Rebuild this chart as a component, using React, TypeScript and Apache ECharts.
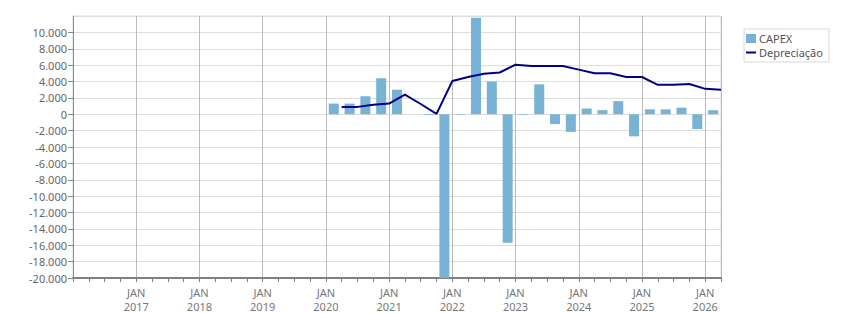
import React, { useEffect, useRef } from "react";
import * as echarts from "echarts";

const quarters = [
  "2020Q1", "2020Q2", "2020Q3", "2020Q4",
  "2021Q1", "2021Q2", "2021Q3", "2021Q4",
  "2022Q1", "2022Q2", "2022Q3", "2022Q4",
  "2023Q1", "2023Q2", "2023Q3", "2023Q4",
  "2024Q1", "2024Q2", "2024Q3", "2024Q4",
  "2025Q1", "2025Q2", "2025Q3", "2025Q4",
  "2026Q1",
];

const capex = [
  1300, 1300, 2200, 4400,
  3000, 0, -100, -20000,
  -80, 11800, 4000, -15700,
  -80, 3650, -1200, -2150,
  700, 500, 1600, -2700,
  600, 600, 800, -1800,
  500,
];

// Depreciação, value at the end of each quarter
const depreciacao = [
  900, 900, 1150, 1300,
  2400, 1250, 50, 4050,
  4550, 4950, 5100, 6050,
  5900, 5900, 5900, 5450,
  5000, 5000, 4550, 4550,
  3600, 3600, 3700, 3100,
  3000,
];

const yearTicks = [2017, 2018, 2019, 2020, 2021, 2022, 2023, 2024, 2025, 2026];

const qParse = (q: string) => {
  const y = parseInt(q.slice(0, 4), 10);
  const n = parseInt(q.slice(5), 10);
  return { y, n };
};

const fmt = (v: number) => {
  const s = Math.abs(v).toString().replace(/\B(?=(\d{3})+(?!\d))/g, ".");
  return (v < 0 ? "-" : "") + s;
};

const FONT = "Noto Sans";

export default function App() {
  const ref = useRef<HTMLDivElement>(null);
  useEffect(() => {
    document.body.style.margin = "0";
    if (!ref.current) return;
    const chart = echarts.init(ref.current, null, { renderer: "svg" });
    const barData = quarters.map((q, i) => {
      const { y, n } = qParse(q);
      return [y + (n - 0.5) / 4, capex[i]];
    });
    const lineData = quarters.map((q, i) => {
      const { y, n } = qParse(q);
      return [y + n / 4, depreciacao[i]];
    });
    chart.setOption({
      animation: false,
      textStyle: { fontFamily: FONT },
      grid: {
        left: 73,
        right: 130,
        top: 16,
        bottom: 35,
        show: true,
        borderColor: "#dddddd",
        borderWidth: 1,
      },
      legend: {
        orient: "vertical",
        left: 744,
        top: 29,
        padding: [4, 6, 4, 2],
        itemGap: 3,
        itemWidth: 10,
        itemHeight: 9,
        borderColor: "#d8d8d8",
        borderWidth: 1,
        textStyle: {
          fontSize: 11,
          lineHeight: 11,
          color: "#555",
          fontFamily: FONT,
          padding: [0, 0, 0, -2],
        },
        data: [
          { name: "CAPEX", icon: "rect" },
          { name: "Depreciação", icon: "path://M0,0L10,0L10,2L0,2Z" },
        ],
      },
      xAxis: {
        type: "value",
        min: 2016,
        max: 2026.25,
        interval: 1,
        axisLine: { show: true, onZero: false, lineStyle: { color: "#808080", width: 2 } },
        axisTick: { show: true, length: 4, lineStyle: { color: "#808080" } },
        minorTick: { show: true, splitNumber: 4, length: 4, lineStyle: { color: "#808080" } },
        splitLine: { show: true, lineStyle: { color: "#bbbbbb", width: 1 } },
        axisLabel: {
          showMinLabel: false,
          showMaxLabel: false,
          color: "#777",
          fontSize: 11,
          fontFamily: FONT,
          lineHeight: 14,
          margin: 7,
          formatter: (v: number) => {
            const yr = yearTicks.find((t) => Math.abs(t - v) < 1e-6);
            return yr ? "JAN\n" + yr : "";
          },
        },
      },
      yAxis: {
        type: "value",
        min: -20000,
        max: 12000,
        interval: 2000,
        axisLine: { show: true, lineStyle: { color: "#8a8a8a", width: 1 } },
        axisTick: { show: true, length: 5, lineStyle: { color: "#8a8a8a" } },
        splitLine: { show: true, lineStyle: { color: "#dddddd", width: 1 } },
        axisLabel: {
          showMaxLabel: false,
          color: "#666",
          fontSize: 11,
          fontFamily: FONT,
          margin: 6,
          formatter: (v: number) => fmt(v),
        },
      },
      series: [
        {
          name: "CAPEX",
          type: "bar",
          data: barData,
          barWidth: 10,
          itemStyle: { color: "#78b2d5" },
        },
        {
          name: "Depreciação",
          type: "line",
          data: lineData,
          symbol: "none",
          lineStyle: { color: "#000080", width: 2 },
          itemStyle: { color: "#000080" },
        },
      ],
    });
    return () => chart.dispose();
  }, []);
  return <div ref={ref} style={{ width: 851, height: 313 }} />;
}
